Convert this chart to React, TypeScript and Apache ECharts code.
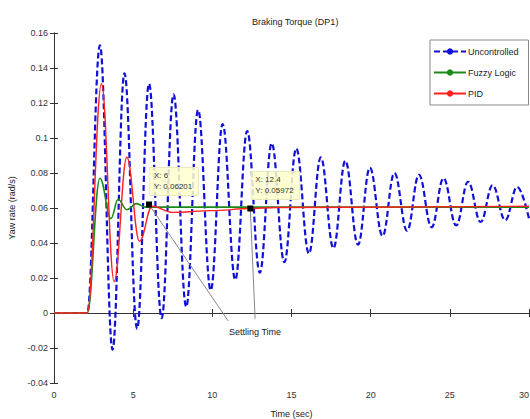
import React, { useEffect, useRef } from "react";
import * as echarts from "echarts";

const xTicks = [0, 5, 10, 15, 20, 25, 30];
const yMin = -0.04;
const yMax = 0.16;
const yStep = 0.02;

const uncT = [0, 2.1, 2.9, 3.7, 4.45, 5.25, 6.0, 6.8, 7.55, 8.35, 9.1, 9.9, 10.65, 11.45, 12.2, 13.0, 13.75, 14.55, 15.3, 16.1, 16.85, 17.65, 18.4, 19.2, 19.95, 20.75, 21.5, 22.3, 23.05, 23.85, 24.6, 25.4, 26.15, 26.95, 27.7, 28.5, 29.25, 30.0];
const uncV = [0, 0, 0.153, -0.021, 0.137, -0.009, 0.131, -0.003, 0.125, 0.0035, 0.116, 0.013, 0.108, 0.019, 0.104, 0.023, 0.097, 0.029, 0.094, 0.034, 0.089, 0.037, 0.087, 0.039, 0.083, 0.044, 0.08, 0.047, 0.079, 0.049, 0.077, 0.05, 0.075, 0.052, 0.073, 0.053, 0.072, 0.054];

const fzT = [0, 2.1, 2.9, 3.6, 4.05, 4.6, 5.2, 5.8, 30];
const fzV = [0, 0, 0.077, 0.054, 0.065, 0.059, 0.0625, 0.0605, 0.0605];

const pidT = [0, 2.1, 3.0, 3.8, 4.6, 5.4, 6.2, 7.5, 10, 12.4, 14, 30];
const pidV = [0, 0, 0.131, 0.018, 0.089, 0.041, 0.061, 0.0575, 0.0585, 0.0597, 0.0603, 0.061];

const seriesNames = ["Uncontrolled", "Fuzzy Logic", "PID"];

const tip1 = { x: 6, y: 0.06201, label: "X: 6\nY: 0.06201" };
const tip2 = { x: 12.4, y: 0.05972, label: "X: 12.4\nY: 0.05972" };
const settleLabel = { x: 12.7, y: -0.011, text: "Settling Time" };
const settleEnds = [
  [6, 0.062, 11.0, -0.0045],
  [12.4, 0.0597, 12.7, -0.0033],
];

const zip = (t: number[], v: number[]) => t.map((x, i) => [x, v[i]]);

const FONT = "'Liberation Sans', Arial, sans-serif";

export default function App() {
  const ref = useRef<HTMLDivElement>(null);
  useEffect(() => {
    document.body.style.margin = "0";
    document.documentElement.style.overflow = "hidden";
    document.body.style.overflow = "hidden";
    const chart = echarts.init(ref.current!, null, { renderer: "svg" });
    const tipLabel = {
      show: true,
      position: [4, -34],
      align: "left",
      verticalAlign: "top",
      fontSize: 8,
      lineHeight: 11,
      color: "#333",
      fontFamily: FONT,
      backgroundColor: "rgba(255,255,205,0.85)",
      borderColor: "#d8d8b0",
      borderWidth: 0.5,
      padding: [3, 6, 3, 4],
    };
    const axisCommon = {
      axisLine: { show: true, lineStyle: { color: "#333", width: 1 } },
      axisTick: { show: true, inside: true, length: 4, lineStyle: { color: "#333" } },
      splitLine: { show: false },
    };
    chart.setOption({
      animation: false,
      backgroundColor: "#fff",
      textStyle: { fontFamily: FONT },
      title: {
        text: "Braking Torque (DP1)",
        left: 247,
        top: 12,
        textStyle: { fontSize: 9, fontWeight: "normal", color: "#222", fontFamily: FONT },
      },
      legend: {
        orient: "vertical",
        left: 430,
        top: 40,
        itemWidth: 32,
        itemHeight: 8,
        itemGap: 12,
        padding: [7, 10, 7, 3],
        borderColor: "#888",
        borderWidth: 1,
        backgroundColor: "#fff",
        textStyle: { fontSize: 9, color: "#222", fontFamily: FONT, padding: [0, 0, 0, -3] },
        data: seriesNames,
      },
      grid: { left: 54, top: 33, right: 1, bottom: 36, outerBoundsMode: "none", containLabel: false },
      xAxis: [
        {
          type: "value",
          min: xTicks[0],
          max: xTicks[xTicks.length - 1],
          interval: 5,
          name: "Time (sec)",
          nameLocation: "middle",
          nameGap: 26,
          nameTextStyle: { fontSize: 9, color: "#222", fontFamily: FONT },
          axisLabel: { fontSize: 9, color: "#333", margin: 7, fontFamily: FONT, alignMaxLabel: "right" },
          ...axisCommon,
        },
        {
          type: "value",
          position: "top",
          min: xTicks[0],
          max: xTicks[xTicks.length - 1],
          interval: 5,
          axisLabel: { show: false },
          ...axisCommon,
        },
      ],
      yAxis: [
        {
          type: "value",
          min: yMin,
          max: yMax,
          interval: yStep,
          name: "Yaw rate (rad/s)",
          nameLocation: "middle",
          nameGap: 38,
          nameTextStyle: { fontSize: 9, color: "#222", fontFamily: FONT },
          axisLabel: { fontSize: 9, color: "#333", margin: 6, fontFamily: FONT },
          ...axisCommon,
        },
        {
          type: "value",
          position: "right",
          min: yMin,
          max: yMax,
          interval: yStep,
          axisLabel: { show: false },
          ...axisCommon,
        },
      ],
      series: [
        {
          name: seriesNames[0],
          type: "line",
          data: zip(uncT, uncV),
          smooth: 0.4,
          smoothMonotone: "x",
          symbol: "circle",
          symbolSize: 4,
          showSymbol: false,
          itemStyle: { color: "#1010d8" },
          lineStyle: { color: "#1010d8", width: 2.2, type: [6, 3] },
          z: 2,
        },
        {
          name: seriesNames[1],
          type: "line",
          data: zip(fzT, fzV),
          smooth: 0.4,
          smoothMonotone: "x",
          symbol: "none",
          itemStyle: { color: "#1a8a1a" },
          lineStyle: { color: "#1a8a1a", width: 1.6 },
          z: 3,
        },
        {
          name: seriesNames[2],
          type: "line",
          data: zip(pidT, pidV),
          smooth: 0.4,
          smoothMonotone: "x",
          symbol: "circle",
          symbolSize: 4,
          showSymbol: false,
          itemStyle: { color: "#ff2020" },
          lineStyle: { color: "#ff2020", width: 1.4 },
          z: 4,
          markLine: {
            silent: true,
            symbol: "none",
            label: { show: false },
            lineStyle: { color: "#888", width: 1, type: "solid" },
            data: settleEnds.map((s) => [
              { coord: [s[0], s[1]] },
              { coord: [s[2], s[3]] },
            ]),
          },
          markPoint: {
            silent: true,
            data: [
              {
                coord: [tip1.x, tip1.y],
                symbol: "rect",
                symbolSize: 6,
                itemStyle: { color: "#000" },
                label: { ...tipLabel, formatter: tip1.label },
              },
              {
                coord: [tip2.x, tip2.y],
                symbol: "rect",
                symbolSize: 6,
                itemStyle: { color: "#000" },
                label: { ...tipLabel, formatter: tip2.label },
              },
              {
                coord: [settleLabel.x, settleLabel.y],
                symbol: "circle",
                symbolSize: 0,
                itemStyle: { color: "transparent" },
                label: {
                  show: true,
                  position: "inside",
                  formatter: settleLabel.text,
                  fontSize: 9,
                  color: "#222",
                  fontFamily: FONT,
                },
              },
            ],
          },
        },
      ],
    });
    return () => chart.dispose();
  }, []);
  return (
    <div
      ref={ref}
      style={{ position: "absolute", left: 0, top: 0, width: 530, height: 419, overflow: "hidden" }}
    />
  );
}
